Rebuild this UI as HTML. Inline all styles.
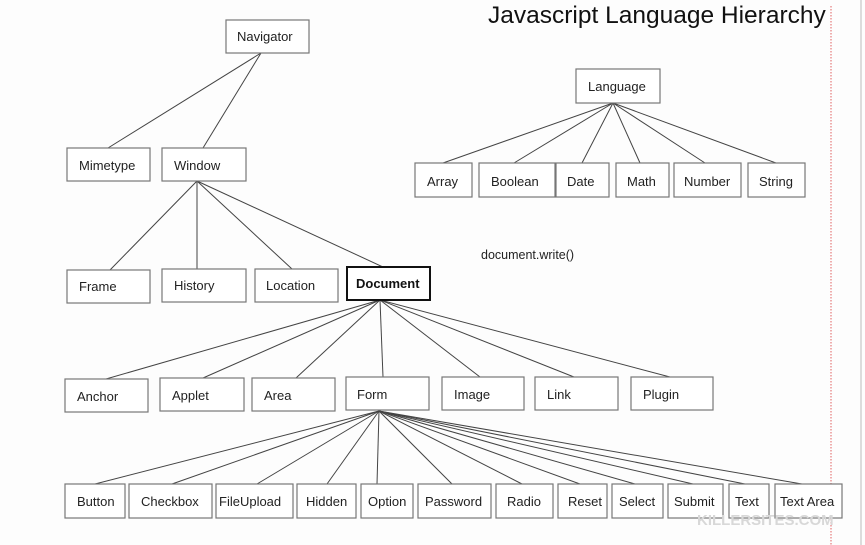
<!DOCTYPE html>
<html><head><meta charset="utf-8"><style>
body{margin:0;background:#fdfdfd}
svg{display:block;font-family:"Liberation Sans",sans-serif}
rect{fill:#fff;stroke:#777;stroke-width:1.2}
line{stroke:#444;stroke-width:1}
text{font-size:13px;fill:#222}
</style></head><body>
<svg width="865" height="545" viewBox="0 0 865 545">
<rect x="0" y="0" width="865" height="545" style="fill:#fdfdfd;stroke:none"/>
<line x1="831" y1="6" x2="831" y2="545" style="stroke:#e06060;stroke-dasharray:1.5 1.5"/>
<line x1="861" y1="0" x2="861" y2="545" style="stroke:#bbb"/>
<text x="488" y="23" style="font-size:24.5px;fill:#111">Javascript Language Hierarchy</text>
<text x="481" y="259" style="font-size:12.5px">document.write()</text>
<g>
<line x1="261" y1="53" x2="108" y2="148"/><line x1="261" y1="53" x2="203" y2="148"/>
<line x1="197" y1="181" x2="110" y2="270"/><line x1="197" y1="181" x2="197" y2="269"/>
<line x1="197" y1="181" x2="292" y2="269"/><line x1="197" y1="181" x2="383" y2="267"/>
<line x1="380" y1="300" x2="106" y2="379"/><line x1="380" y1="300" x2="203" y2="378"/>
<line x1="380" y1="300" x2="296" y2="378"/><line x1="380" y1="300" x2="383" y2="377"/>
<line x1="380" y1="300" x2="480" y2="377"/><line x1="380" y1="300" x2="574" y2="377"/>
<line x1="380" y1="300" x2="670" y2="377"/>
<line x1="379" y1="411" x2="95" y2="484"/><line x1="379" y1="411" x2="172" y2="484"/>
<line x1="379" y1="411" x2="257" y2="484"/><line x1="379" y1="411" x2="327" y2="484"/>
<line x1="379" y1="411" x2="377" y2="484"/><line x1="379" y1="411" x2="452" y2="484"/>
<line x1="379" y1="411" x2="522" y2="484"/><line x1="379" y1="411" x2="580" y2="484"/>
<line x1="379" y1="411" x2="635" y2="484"/><line x1="379" y1="411" x2="693" y2="484"/>
<line x1="379" y1="411" x2="745" y2="484"/><line x1="379" y1="411" x2="802" y2="484"/>
<line x1="613" y1="103" x2="443" y2="163"/><line x1="613" y1="103" x2="514" y2="163"/>
<line x1="613" y1="103" x2="582" y2="163"/><line x1="613" y1="103" x2="640" y2="163"/>
<line x1="613" y1="103" x2="705" y2="163"/><line x1="613" y1="103" x2="776" y2="163"/>
</g>
<rect x="226" y="20" width="83" height="33"/><text x="237" y="41">Navigator</text>
<rect x="67" y="148" width="83" height="33"/><text x="79" y="170">Mimetype</text>
<rect x="162" y="148" width="84" height="33"/><text x="174" y="170">Window</text>
<rect x="67" y="270" width="83" height="33"/><text x="79" y="291">Frame</text>
<rect x="162" y="269" width="84" height="33"/><text x="174" y="290">History</text>
<rect x="255" y="269" width="83" height="33"/><text x="266" y="290">Location</text>
<rect x="347" y="267" width="83" height="33" style="stroke:#111;stroke-width:2"/><text x="356" y="288" style="font-weight:bold;fill:#111">Document</text>
<rect x="65" y="379" width="83" height="33"/><text x="77" y="401">Anchor</text>
<rect x="160" y="378" width="84" height="33"/><text x="172" y="400">Applet</text>
<rect x="252" y="378" width="83" height="33"/><text x="264" y="400">Area</text>
<rect x="346" y="377" width="83" height="33"/><text x="357" y="399">Form</text>
<rect x="442" y="377" width="82" height="33"/><text x="454" y="399">Image</text>
<rect x="535" y="377" width="83" height="33"/><text x="547" y="399">Link</text>
<rect x="631" y="377" width="82" height="33"/><text x="643" y="399">Plugin</text>
<rect x="65" y="484" width="60" height="34"/><text x="77" y="506">Button</text>
<rect x="129" y="484" width="83" height="34"/><text x="141" y="506">Checkbox</text>
<rect x="216" y="484" width="77" height="34"/><text x="219" y="506">FileUpload</text>
<rect x="297" y="484" width="59" height="34"/><text x="306" y="506">Hidden</text>
<rect x="361" y="484" width="52" height="34"/><text x="368" y="506">Option</text>
<rect x="418" y="484" width="73" height="34"/><text x="425" y="506">Password</text>
<rect x="496" y="484" width="57" height="34"/><text x="507" y="506">Radio</text>
<rect x="558" y="484" width="49" height="34"/><text x="568" y="506">Reset</text>
<rect x="612" y="484" width="51" height="34"/><text x="619" y="506">Select</text>
<rect x="668" y="484" width="55" height="34"/><text x="674" y="506">Submit</text>
<rect x="729" y="484" width="40" height="34"/><text x="735" y="506">Text</text>
<rect x="775" y="484" width="67" height="34"/><text x="780" y="506">Text Area</text>
<text x="697" y="525" style="font-size:15px;fill:#d8d8d8;font-weight:bold">KILLERSITES.COM</text>
<rect x="576" y="69" width="84" height="34"/><text x="588" y="91">Language</text>
<rect x="415" y="163" width="57" height="34"/><text x="427" y="186">Array</text>
<rect x="479" y="163" width="76" height="34"/><text x="491" y="186">Boolean</text>
<rect x="556" y="163" width="53" height="34"/><text x="567" y="186">Date</text>
<rect x="616" y="163" width="53" height="34"/><text x="627" y="186">Math</text>
<rect x="674" y="163" width="67" height="34"/><text x="684" y="186">Number</text>
<rect x="748" y="163" width="57" height="34"/><text x="759" y="186">String</text>
</svg>
</body></html>
